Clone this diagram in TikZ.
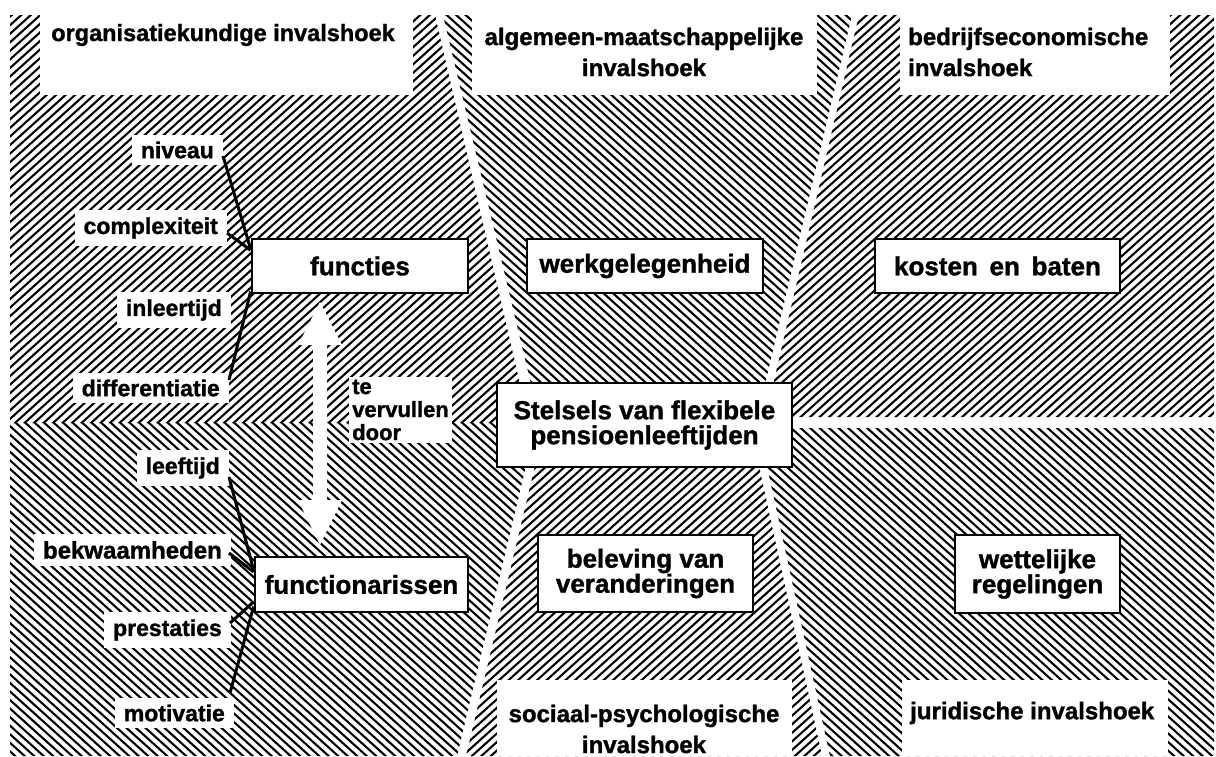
\documentclass[tikz,border=0pt]{standalone}
\usepackage{fontspec}
\setmainfont{Liberation Sans}[BoldFeatures={FakeBold=1.3}]
\usetikzlibrary{calc}
\begin{document}
\begin{tikzpicture}[x=1pt,y=-1pt,
  hatch/.style={line width=2.1pt},
  box/.style={draw, line width=2.8pt, fill=white, inner sep=0pt, align=center, font=\bfseries\fontsize{26}{25}\selectfont},
  lab/.style={fill=white, inner xsep=9pt, inner ysep=7pt, font=\bfseries\fontsize{23}{23}\selectfont},
  head/.style={font=\bfseries\fontsize{24}{31}\selectfont, inner sep=0pt},
  conn/.style={line width=3pt},
  blank/.style={fill=white}]
\useasboundingbox (0,0) rectangle (1216,756);
% regions hatched "/"
\begin{scope}
\clip (10,15) -- (435,15) -- (520,384) -- (520,423) -- (10,423) -- cycle
      (535,466) -- (759,466) -- (822,756) -- (466,756) -- cycle
      (859,15) -- (1214,15) -- (1214,417) -- (766,417) -- (773,385) -- cycle;
\foreach \c in {0,9.5,...,2200} \draw[hatch] (\c,0) -- ({\c-888},800);
\end{scope}
% regions hatched "\"
\begin{scope}
\clip (443,15) -- (852,15) -- (765,384) -- (531,384) -- cycle
      (10,423) -- (526,423) -- (526,466) -- (457,756) -- (10,756) -- cycle
      (760,428) -- (1214,428) -- (1214,756) -- (830,756) -- (767,466) -- cycle;
\foreach \c in {-900,-890.5,...,1216} \draw[hatch] (\c,0) -- ({\c+888},800);
\end{scope}
% white label fields
\fill[blank] (40,0) rectangle (413,95);
\fill[blank] (472,0) rectangle (817,95);
\fill[blank] (900,0) rectangle (1170,95);
\fill[blank] (497,680) rectangle (792,756);
\fill[blank] (902,680) rectangle (1168,756);
% headings
\node[head, font=\bfseries\fontsize{23.5}{31}\selectfont] (hOrg) at (223,35) {organisatiekundige invalshoek};
\node[head, align=center] (hAlg) at (644,52) {algemeen-maatschappelijke\\invalshoek};
\node[head, align=left, anchor=west] (hBed) at (908,52) {bedrijfseconomische\\invalshoek};
\node[head, align=center] (hSoc) at (644,729) {sociaal-psychologische\\invalshoek};
\node[head, anchor=west] (hJur) at (910,713) {juridische invalshoek};
% double arrow (white)
\fill[white] (320,302) -- (342,345) -- (327,345) -- (327,500) -- (342,500) -- (320,545) -- (298,500) -- (313,500) -- (313,345) -- (298,345) -- cycle;
% boxes
\node[box, minimum width=216pt, minimum height=54pt] (functies) at (360,266) {functies};
\node[box, minimum width=236pt, minimum height=54pt] (werk) at (645,266) {werkgelegenheid};
\node[box, minimum width=245pt, minimum height=54pt] (kosten) at (997.5,266) {kosten\hspace{0.45em}en\hspace{0.45em}baten};
\node[box, minimum width=295pt, minimum height=84pt] (stelsels) at (644.5,425) {Stelsels van flexibele\\pensioenleeftijden};
\node[box, minimum width=213pt, minimum height=55pt] (functionarissen) at (361.5,584.5) {functionarissen};
\node[box, minimum width=215pt, minimum height=77pt] (beleving) at (645.5,573.5) {beleving van\\veranderingen};
\node[box, minimum width=165pt, minimum height=78pt] (wettelijk) at (1037.5,574) {wettelijke\\regelingen};
% small labels
\node[lab, anchor=east] (niveau) at (223,150) {niveau};
\node[lab, anchor=east] (complex) at (227,228) {complexiteit};
\node[lab, anchor=east] (inleer) at (231,310) {inleertijd};
\node[lab, anchor=east] (diff) at (229,388) {differentiatie};
\node[lab, anchor=east] (leeftijd) at (229,468) {leeftijd};
\node[lab, anchor=east, font=\bfseries\fontsize{24}{23}\selectfont] (bekwaam) at (231,550) {bekwaamheden};
\node[lab, anchor=east] (prest) at (231,630) {prestaties};
\node[lab, anchor=east] (motiv) at (234,713) {motivatie};
\node[lab, align=left, anchor=west, inner sep=3pt, font=\bfseries\fontsize{22}{23}\selectfont] (tevervullen) at (349,410) {te\\vervullen\\door};
% connectors
\draw[conn] ($(niveau.east)+(0,6)$) -- ($(functies.north west)!0.2!(functies.south west)$);
\draw[conn] ($(complex.east)+(0,5)$) -- ($(functies.north west)!0.22!(functies.south west)$);
\draw[conn] ($(diff.east)+(0,-8)$) -- ($(functies.north west)!0.95!(functies.south west)$);
\draw[conn] ($(leeftijd.east)+(0,9)$) -- ($(functionarissen.north west)!0.25!(functionarissen.south west)$);
\draw[conn] ($(bekwaam.east)+(-2,3)$) -- ($(functionarissen.north west)!0.28!(functionarissen.south west)$);
\draw[conn] ($(prest.east)+(-1,-7)$) -- ($(functionarissen.north west)!0.8!(functionarissen.south west)$);
\draw[conn] ($(motiv.east)+(-4,-20)$) -- ($(functionarissen.north west)!0.88!(functionarissen.south west)$);
\end{tikzpicture}
\end{document}
